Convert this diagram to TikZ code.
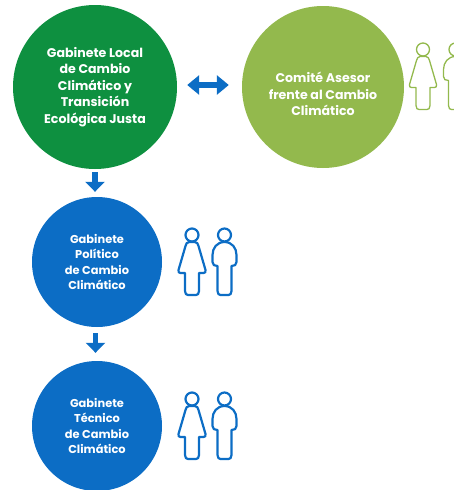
\documentclass[tikz,border=0pt]{standalone}
\usepackage{fontspec}
\setmainfont{Poppins}
\usetikzlibrary{arrows.meta}
\definecolor{cgreen}{HTML}{0E9040}
\definecolor{clime}{HTML}{93B94D}
\definecolor{cblue}{HTML}{0C6DC5}
\def\plw{2.2pt}
\tikzset{
  x=1pt,y=-1pt,
  disc/.style={circle,inner sep=0pt,text=white,align=center},
  big/.style={disc,font=\bfseries\fontsize{12.6}{16.5}\selectfont},
  small/.style={disc,fill=cblue,minimum size=130pt,font=\bfseries\fontsize{11.4}{15.5}\selectfont},
  link/.style={draw=cblue,line width=5.4pt},
  person/.style={line width=\plw,line join=round,fill=none},
  people/.pic={
    \draw[person] (0,6) circle (6.5);
    \draw[person] (-3,13) -- (3,13) .. controls (5,13) and (6,15) .. (6.5,17) -- (13.5,41) .. controls (14,43) and (13,44) .. (11.5,44)
      -- (7,44) -- (7,62) .. controls (7,65) and (5.5,66) .. (4,66) -- (-4,66) .. controls (-5.5,66) and (-7,65) .. (-7,62) -- (-7,44)
      -- (-11.5,44) .. controls (-13,44) and (-14,43) .. (-13.5,41) -- (-6.5,17) .. controls (-6,15) and (-5,13) .. (-3,13) -- cycle;
    \draw[person] (32.5,6) circle (6.5);
    \draw[person] (32.5,13) .. controls (40,13) and (44.5,19) .. (44.5,26) -- (44.5,33) .. controls (44.5,36) and (42.5,37) .. (39.5,37)
      -- (39.5,62) .. controls (39.5,65) and (38,66) .. (36.5,66) -- (28.5,66) .. controls (27,66) and (25.5,65) .. (25.5,62) -- (25.5,37)
      .. controls (22.5,37) and (20.5,36) .. (20.5,33) -- (20.5,26) .. controls (20.5,19) and (25,13) .. (32.5,13) -- cycle;
  }
}
\begin{document}
\begin{tikzpicture}
\useasboundingbox (0,0) rectangle (454,490);
\clip (0,0) rectangle (454,490);
\node[big,fill=cgreen,minimum size=164pt] (gabinete) at (95,87) {Gabinete Local\\de Cambio\\Climático y\\Transición\\Ecológica Justa};
\node[disc,fill=clime,minimum size=162pt] (comite) at (323,87) {};
\node[big] (comitetext) at (323,94) {Comité Asesor\\frente al Cambio\\Climático};
\node[small] (politico) at (97,262) {Gabinete\\Político\\de Cambio\\Climático};
\node[small] (tecnico) at (97,426) {Gabinete\\Técnico\\de Cambio\\Climático};
\draw[link,{Triangle[width=19pt,length=12pt]}-{Triangle[width=19pt,length=12pt]},shorten <=10pt,shorten >=13pt] ([yshift=2pt]gabinete.east) -- ([yshift=2pt]comite.west);
\draw[link,-{Triangle[width=19pt,length=10pt]},shorten <=3pt,shorten >=5pt] (gabinete.south) -- (gabinete.south |- politico.north);
\draw[link,-{Triangle[width=19pt,length=10pt]},shorten <=6pt,shorten >=8pt] ([xshift=-1.5pt]politico.south) -- ([xshift=-1.5pt]tecnico.north);
\pic[draw=cblue,color=cblue] at (192,229) {people};
\pic[draw=cblue,color=cblue] at (192,393) {people};
\begin{scope}[shift={(423,43.5)},xscale=0.8,yscale=0.86,color=clime,draw=clime]
\def\plw{1.3pt}
\pic {people};
\end{scope}
\end{tikzpicture}
\end{document}
